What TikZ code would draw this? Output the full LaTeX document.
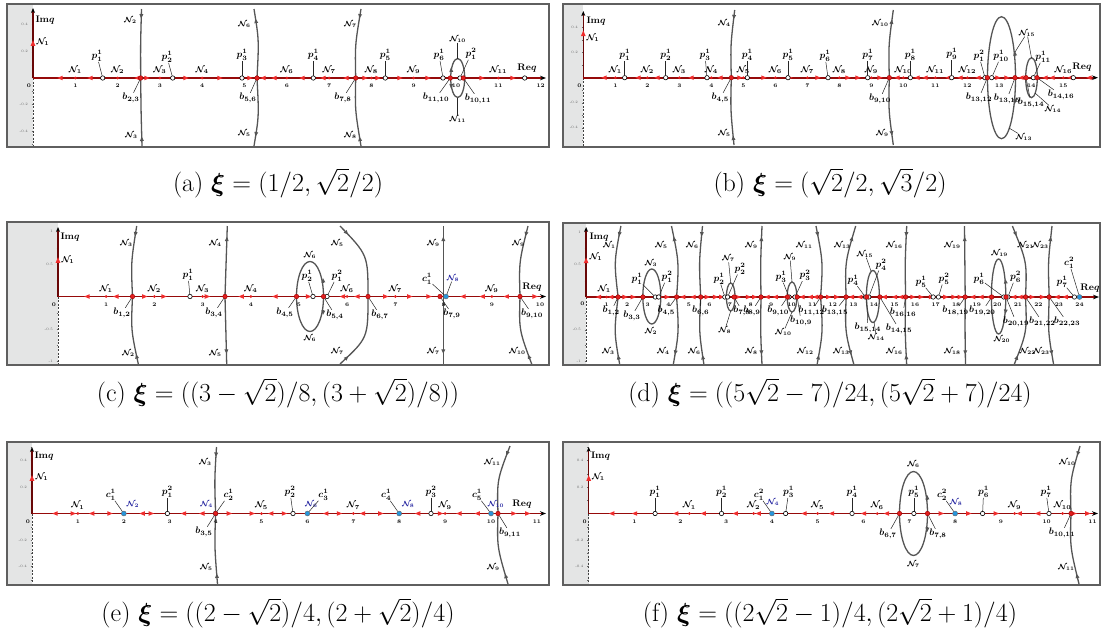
\RequirePackage{fix-cm}
\documentclass[tikz,border=0pt]{standalone}
\usepackage{amsmath,amssymb,bm}
\usetikzlibrary{arrows.meta,decorations.markings}
\definecolor{axred}{RGB}{150,10,10}
\definecolor{flowred}{RGB}{240,45,45}
\definecolor{dotred}{RGB}{225,30,30}
\definecolor{curvegray}{RGB}{85,85,85}
\definecolor{stripgray}{RGB}{228,229,229}
\definecolor{framegray}{RGB}{95,95,95}
\definecolor{cyanpt}{RGB}{40,150,220}
\definecolor{nblue}{RGB}{35,35,160}
\tikzset{
 panel/.style={draw=framegray,line width=1.6pt},
 reax/.style={draw=axred,line width=1.7pt},
 imax/.style={draw=axred!70!black,line width=1.4pt},
 imneg/.style={draw=black!75,line width=0.7pt,dash pattern=on 2pt off 1.5pt},
 imtick/.style={draw=black!60,line width=0.4pt},
 vc/.style={draw=curvegray,line width=1.3pt},
 lead/.style={draw=black!85,line width=0.5pt},
 hollow/.style={circle,draw=black,fill=white,line width=0.6pt,inner sep=0pt,minimum size=4.4pt},
 cdot/.style={circle,draw=black!60,fill=cyanpt,line width=0.4pt,inner sep=0pt,minimum size=5pt},
 bdot/.style={circle,draw=black!40!red,fill=dotred,line width=0.4pt,inner sep=0pt,minimum size=4.6pt},
 ndot/.style={circle,fill=dotred,inner sep=0pt,minimum size=3pt},
 lab/.style={font=\fontsize{9.5}{9.5}\selectfont\boldmath,inner sep=0.3pt},
 alab/.style={font=\fontsize{8.5}{8.5}\selectfont\boldmath,inner sep=0.3pt},
 slab/.style={font=\fontsize{7.5}{7.5}\selectfont\boldmath,inner sep=0.3pt},
 blab/.style={slab,text=nblue},
 num/.style={font=\fontsize{5.4}{5.4}\selectfont\bfseries,inner sep=0pt},
 imnum/.style={font=\fontsize{3.6}{4}\selectfont,text=black!60,inner sep=0pt},
 captxt/.style={font=\fontsize{26}{30}\selectfont,inner sep=0pt},
 am/.style={postaction={decorate},decoration={markings,mark=at position #1 with {\arrow{Triangle[length=4.5pt,width=3.6pt]}}}},
 tip/.style={draw=curvegray,line width=1.3pt,-{Triangle[length=4.5pt,width=3.6pt]}},
}
\newcommand\fR[2]{\fill[flowred] (#1,#2) ++(2.7pt,0) -- ++(-5.4pt,2.3pt) -- ++(0,-4.6pt) -- cycle;}
\newcommand\fL[2]{\fill[flowred] (#1,#2) ++(-2.7pt,0) -- ++(5.4pt,2.3pt) -- ++(0,-4.6pt) -- cycle;}
\newcommand\fU[2]{\fill[flowred] (#1,#2) ++(0,2.8pt) -- ++(-2.4pt,-5.6pt) -- ++(4.8pt,0) -- cycle;}
\begin{document}
\begin{tikzpicture}[x=1pt,y=-1pt]
\useasboundingbox (0,0) rectangle (1103,637);
\fill[white] (0,0) rectangle (1103,637);

%%%%%%%%%%%%%%%%%%%% PANEL (a)
\fill[stripgray] (7,4) rectangle (33,147);
\draw[imneg] (33,78) -- (33,146);
\foreach \y in {11,24.5,38,51.7,65,91,104.5,118,131,144} \draw[imtick] (31.5,\y) -- (33,\y);
\draw[vc,am=0.14] (141.5,9) .. controls (140.5,45) .. (140.7,78);
\draw[vc,am=0.14] (142,146) .. controls (141,110) .. (140.7,78);
\draw[vc,am=0.86] (257,78) .. controls (259,40) .. (254,9);
\draw[vc,am=0.86] (257,78) .. controls (259,116) .. (254,146);
\draw[vc,am=0.14] (361,9) .. controls (355,45) .. (355.7,78);
\draw[vc,am=0.14] (361,146) .. controls (355,110) .. (355.7,78);
\draw[vc] (457.7,78) ellipse [x radius=7pt,y radius=19.5pt];
\draw[tip] (451.2,71) -- (450.9,67.5);
\draw[tip] (451.2,85) -- (450.9,88.5);
\node[slab,anchor=east] (aC2) at (137,20) {$\mathcal N_2$};
\node[slab,anchor=east] (aC3) at (138,135) {$\mathcal N_3$};
\node[slab,anchor=east] (aC6) at (251,24) {$\mathcal N_6$};
\node[slab,anchor=east] (aC5) at (251,133) {$\mathcal N_5$};
\node[slab,anchor=east] (aC7) at (357,24) {$\mathcal N_7$};
\node[slab,anchor=east] (aC8) at (357,135) {$\mathcal N_8$};
\coordinate (aEt) at (457.7,58.5);
\coordinate (aEb) at (457.7,97.5);
\node[slab] (aC10) at (457.7,39) {$\mathcal N_{10}$};
\node[slab] (aC11) at (457.7,119) {$\mathcal N_{11}$};
\draw[lead] (aC10) -- (aEt);
\draw[lead] (aC11) -- (aEb);
\draw[imax,-{Stealth[length=5pt,width=4pt,color=black]}] (33,78) -- (33,8);
\node[imnum,anchor=east] (aI1) at (28,24.5) {0.4};
\node[imnum,anchor=east] (aI2) at (28,51.7) {0.2};
\node[imnum,anchor=east] (aI3) at (28,104.5) {-0.2};
\node[imnum,anchor=east] (aI4) at (28,131) {-0.4};
\node[num] (aT0) at (29,86) {0};
\fU{33}{43}
\node[alab,anchor=west] (aN1i) at (36,42) {$\mathcal N_1$};
\node[lab,anchor=west] (aIm) at (35,20) {$\mathbf{Im}q$};
\draw[reax,-{Stealth[length=6pt,width=4.6pt,color=black]}] (33,78) -- (546,78);
\foreach \i in {1,...,12} \node[num] (aT\i) at ({33+42.3*\i},86) {\i};
\foreach \x in {60,90,137,263,274,302,323,346} {\fL{\x}{78}}
\foreach \x in {147,186,220,250,365,378,400,428,482,513} {\fR{\x}{78}}
\foreach \i/\k in {1/1,2/2,3/3,4/4,6/6,7/7,8/8,9/9,11/11} {
  \node[ndot] (aNd\i) at ({33+42.3*\i},78) {};
  \node[alab] (aN\i) at ({33+42.3*\i},70) {$\mathcal N_{\k}$};}
\foreach \n/\x/\lx/\ly/\t in {p11/102.7/97/56/{p_1^1},p21/172.7/167/57/{p_2^1},p31/242/242/55/{p_3^1},
  p41/313.3/313.3/55/{p_4^1},p51/385.3/385.3/55/{p_5^1},p61/443/439/55/{p_6^1},p12/460/471/54/{p_1^2}} {
  \node[hollow] (a\n) at (\x,78) {};
  \node[lab] (a\n l) at (\lx,\ly) {$\t$};
  \draw[lead] (a\n l) -- (a\n);}
\node[hollow] (aReq) at (524.7,78) {};
\node[lab] (aReql) at (527,68) {$\mathbf{Re}q$};
\foreach \n/\x/\lx/\ly/\t in {b23/140.7/131/98/{b_{2,3}},b56/257/248/98/{b_{5,6}},b78/355.7/343/98/{b_{7,8}},
  b1110/450.3/436/98/{b_{11,10}},b1011/463.3/478/99/{b_{10,11}}} {
  \node[bdot] (a\n) at (\x,78) {};
  \node[lab] (a\n l) at (\lx,\ly) {$\t$};
  \draw[lead] (a\n l) -- (a\n);}
\draw[panel] (7,4) rectangle (549,147);
\node[captxt] (capa) at (278,183) {(a) $\bm{\xi}=(1/2,\sqrt{2}/2)$};

%%%%%%%%%%%%%%%%%%%% PANEL (b)
\fill[stripgray] (563,4) rectangle (583.3,147);
\draw[imneg] (583.3,77.7) -- (583.3,146);
\foreach \y in {15,27.3,40,52.3,65,90,102.7,115,127.7,140} \draw[imtick] (581.8,\y) -- (583.3,\y);
\draw[vc,am=0.14] (734.7,10) .. controls (730.5,45) .. (731.3,77.7);
\draw[vc,am=0.14] (734,145) .. controls (730.5,110) .. (731.3,77.7);
\draw[vc,am=0.86] (889.3,77.7) .. controls (888.5,45) .. (893.3,10);
\draw[vc,am=0.86] (889.3,77.7) .. controls (888.5,110) .. (893.3,145);
\draw[vc] (1001.5,77.7) ellipse [x radius=14pt,y radius=61pt];
\draw[tip] (1015.1,56) -- (1014.8,51);
\draw[tip] (1015.1,99) -- (1014.8,104);
\draw[vc] (1031.5,77.7) ellipse [x radius=5.8pt,y radius=20pt];
\node[slab,anchor=east] (bC4) at (731,23) {$\mathcal N_4$};
\node[slab,anchor=east] (bC5) at (731,133) {$\mathcal N_5$};
\node[slab,anchor=east] (bC10) at (889,23) {$\mathcal N_{10}$};
\node[slab,anchor=east] (bC9) at (889,133) {$\mathcal N_9$};
\coordinate (bE1) at (1015,52);
\coordinate (bE2) at (1031.5,58);
\coordinate (bE3) at (1009,128);
\coordinate (bE4) at (1035,93);
\node[slab] (bC15) at (1027,33) {$\mathcal N_{15}$};
\node[slab] (bC13) at (1024,137) {$\mathcal N_{13}$};
\node[slab] (bC14) at (1053,109) {$\mathcal N_{14}$};
\draw[lead] (bC15) -- (bE1);
\draw[lead] (bC15) -- (bE2);
\draw[lead] (bC13) -- (bE3);
\draw[lead] (bC14) -- (bE4);
\draw[imax,-{Stealth[length=5pt,width=4pt,color=black]}] (583.3,77.7) -- (583.3,11);
\node[imnum,anchor=east] (bI1) at (578,27.3) {0.4};
\node[imnum,anchor=east] (bI2) at (578,52.3) {0.2};
\node[imnum,anchor=east] (bI3) at (578,102.7) {-0.2};
\node[imnum,anchor=east] (bI4) at (578,127.7) {-0.4};
\node[num] (bT0) at (579.5,85.5) {0};
\fU{583.3}{33.3}
\node[alab,anchor=west] (bN1i) at (586,38) {$\mathcal N_1$};
\node[lab,anchor=west] (bIm) at (586,21) {$\mathbf{Im}q$};
\draw[reax,-{Stealth[length=6pt,width=4.6pt,color=black]}] (583.3,77.7) -- (1098,77.7);
\foreach \i in {1,...,15} \node[num] (bT\i) at ({583.3+32*\i},85.5) {\i};
\foreach \x in {604,638,657,691,720,897,917,925,948,960,978,1021,1045,1052,1070,1089} {\fL{\x}{77.7}}
\foreach \x in {740,764,790,818,848,858,880,998,1007} {\fR{\x}{77.7}}
\foreach \i/\k in {1/1,2/2,3/3,4/4,5/5,6/6,7/7,8/8,9/9,10/10,11/11,12/12,15/16} {
  \node[ndot] (bNd\i) at ({583.3+32*\i},77.7) {};
  \node[alab] (bN\i) at ({583.3+32*\i},70) {$\mathcal N_{\k}$};}
\foreach \n/\x/\lx/\ly/\t in {p11/624.7/624.7/55/{p_1^1},p21/665.7/665.7/55/{p_2^1},p31/707/705/55/{p_3^1},
  p41/747.3/747.3/55/{p_4^1},p51/788/788/55/{p_5^1},p61/828/825/56/{p_6^1},p71/867.7/867.7/55/{p_7^1},
  p81/910.3/910.3/55/{p_8^1},p91/951.7/951.7/54/{p_9^1},p12/985/979/56/{p_1^2},p101/991.7/1001/56/{p_{10}^1},
  p111/1033.3/1043/57/{p_{11}^1}} {
  \node[hollow] (b\n) at (\x,77.7) {};
  \node[lab] (b\n l) at (\lx,\ly) {$\t$};
  \draw[lead] (b\n l) -- (b\n);}
\node[hollow] (bReq) at (1073.3,77.7) {};
\node[lab] (bReql) at (1082,67) {$\mathbf{Re}q$};
\foreach \n/\x/\lx/\ly/\t in {b45/731.3/720.3/98/{b_{4,5}},b910/889.3/880/99/{b_{9,10}},b1312/987.3/979/98/{b_{13,12}},
  b1315/1015/1007/99/{b_{13,15}},b1514/1026/1031/103/{b_{15,14}},b1416/1037/1061/95/{b_{14,16}}} {
  \node[bdot] (b\n) at (\x,77.7) {};
  \node[lab] (b\n l) at (\lx,\ly) {$\t$};
  \draw[lead] (b\n l) -- (b\n);}
\draw[panel] (563,4) rectangle (1100,147);
\node[captxt] (capb) at (830,183) {(b) $\bm{\xi}=(\sqrt{2}/2,\sqrt{3}/2)$};

%%%%%%%%%%%%%%%%%%%% PANEL (c)
\fill[stripgray] (7,222) rectangle (58,365);
\draw[imneg] (58,296.5) -- (58,364);
\foreach \y in {231.7,248,264.1,280.3,312.7,328.9,345.1,361.3} \draw[imtick] (56.5,\y) -- (58,\y);
\draw[vc,am=0.15] (136.7,226) .. controls (131,262) .. (132.5,296.5);
\draw[vc,am=0.15] (138.3,364) .. controls (131,330) .. (132.5,296.5);
\draw[vc,am=0.85] (225,296.5) .. controls (226,262) .. (227.3,226);
\draw[vc,am=0.85] (225,296.5) .. controls (226,330) .. (226.7,364);
\draw[vc] (310,296.5) ellipse [x radius=13.5pt,y radius=35pt];
\draw[tip] (323.3,283) -- (323,278);
\draw[tip] (323.3,310) -- (323,315);
\draw[vc,am=0.15] (340,226) .. controls (368,255) .. (368,296.5);
\draw[vc,am=0.15] (340,364) .. controls (368,338) .. (368,296.5);
\draw[vc,am=0.85] (443.3,296.5) -- (443.3,226);
\draw[vc,am=0.85] (443.3,296.5) -- (443.3,364);
\draw[vc,am=0.15] (528,226) .. controls (519,262) .. (520,296.5);
\draw[vc,am=0.15] (531.7,364) .. controls (519,330) .. (520,296.5);
\foreach \n/\x/\y/\t in {c1t/133/243/3,c1b/135/353/2,c2t/222/243/4,c2b/222/353/5,c3t/344/243/5,c3b/344/351/7,
  c4t/440/243/9,c4b/440/351/7,c5t/525/243/9,c5b/526/351/{10}} {
  \node[slab,anchor=east] (c\n) at (\x,\y) {$\mathcal N_{\t}$};}
\node[slab] (cE1t) at (310,255) {$\mathcal N_6$};
\node[slab] (cE1b) at (310,338.5) {$\mathcal N_6$};
\draw[imax,-{Stealth[length=5pt,width=4pt,color=black]}] (58,296.5) -- (58,227);
\node[imnum,anchor=east] (cI1) at (53,231.7) {1};
\node[imnum,anchor=east] (cI2) at (53,264.1) {0.5};
\node[imnum,anchor=east] (cI3) at (53,328.9) {-0.5};
\node[imnum,anchor=east] (cI4) at (53,361.3) {-1};
\node[num] (cT0) at (54,304.5) {0};
\fU{58}{260}
\node[alab,anchor=west] (cN1i) at (61,260) {$\mathcal N_1$};
\node[lab,anchor=west] (cIm) at (60,237) {$\mathbf{Im}q$};
\draw[reax,-{Stealth[length=6pt,width=4.6pt,color=black]}] (58,296.5) -- (546,296.5);
\foreach \i in {1,...,10} \node[num] (cT\i) at ({58+48.2*\i},304.5) {\i};
\foreach \u in {0.6,1.2,3.8,4.5,5.9,6.2,8.4,8.8,9.3} {\fL{58+48.2*\u}{296.5}}
\foreach \u in {1.8,2.2,3.1,5.2,6.8,7.3,7.7,9.9} {\fR{58+48.2*\u}{296.5}}
\foreach \i/\k in {1/1,2/2,3/3,4/4,6/6,7/7,9/9} {
  \node[ndot] (cNd\i) at ({58+48.2*\i},296.5) {};
  \node[alab] (cN\i) at ({58+48.2*\i},289) {$\mathcal N_{\k}$};}
\foreach \n/\x/\lx/\ly/\t in {p11/190/188/275/{p_1^1},p21/313/307/276/{p_2^1},p12/327/337/276/{p_1^2}} {
  \node[hollow] (c\n) at (\x,296.5) {};
  \node[lab] (c\n l) at (\lx,\ly) {$\t$};
  \draw[lead] (c\n l) -- (c\n);}
\node[cdot] (cc11) at (446,296.5) {};
\node[lab] (cc11l) at (427,279) {$c_1^1$};
\node[blab] (cc11n) at (453,278) {$\mathcal N_8$};
\draw[lead] (cc11l) -- (cc11);
\draw[lead] (cc11n) -- (cc11);
\node[lab] (cReql) at (532,287) {$\mathbf{Re}q$};
\foreach \n/\x/\lx/\ly/\t in {b12/132.5/122/313/{b_{1,2}},b34/225/214/313/{b_{3,4}},b45/296.5/285/313/{b_{4,5}},
  b54/323.5/335/315/{b_{5,4}},b67/368/380/315/{b_{6,7}},b79/440/452/314/{b_{7,9}},b910/520/532/314/{b_{9,10}}} {
  \node[bdot] (c\n) at (\x,296.5) {};
  \node[lab] (c\n l) at (\lx,\ly) {$\t$};
  \draw[lead] (c\n l) -- (c\n);}
\draw[panel] (7,222) rectangle (549,365);
\node[captxt] (capc) at (278,393) {(c) $\bm{\xi}=((3-\sqrt{2})/8,(3+\sqrt{2})/8))$};

%%%%%%%%%%%%%%%%%%%% PANEL (d)
\fill[stripgray] (563,223) rectangle (586.1,365);
\draw[imneg] (586.1,297) -- (586.1,364);
\foreach \y in {232,248.5,264.7,281,313,329.7,345.5,361.3} \draw[imtick] (584.6,\y) -- (586.1,\y);
\foreach \xt/\xm/\xa/\xb in {620.9/614/618.1/619.8, 702.5/699/700.7/704, 816/823/820.6/817, 906.7/905/905.6/906.7, 1012.4/1027/1025.5/1014} {
  \draw[vc,am=0.15] (\xt,226) .. controls (\xm,262) .. (\xa,297);
  \draw[vc,am=0.15] (\xb,365) .. controls (\xm,332) .. (\xa,297);}
\foreach \xt/\xm/\xa/\xb in {671.5/679/676.6/673.2, 762/760.5/761/762, 855.7/845/846.1/854, 964.5/965/965.2/965.5, 1052/1048/1049.2/1053.7} {
  \draw[vc,am=0.85] (\xa,297) .. controls (\xm,262) .. (\xt,226);
  \draw[vc,am=0.85] (\xa,297) .. controls (\xm,332) .. (\xb,365);}
\foreach \n/\x/\y/\t in {c1t/616/245/1,c1b/615/351/3,c2t/668/245/5,c2b/670/351/4,c3t/699/245/6,c3b/701/351/6,
  c4t/758/245/9,c4b/758/351/8,c5t/813/245/{11},c5b/814/351/{12},c6t/851/245/{13},c6b/850/351/{13},
  c7t/903/245/{16},c7b/903/351/{16},c8t/961/245/{19},c8b/961/351/{18},c10t/1049/245/{23},c10b/1050/351/{23}} {
  \node[slab,anchor=east] (d\n) at (\x,\y) {$\mathcal N_{\t}$};}
\node[slab,anchor=west] (dc9t) at (1017,245) {$\mathcal N_{21}$};
\node[slab,anchor=west] (dc9b) at (1019,351) {$\mathcal N_{22}$};
\draw[vc] (651.8,296.5) ellipse [x radius=9pt,y radius=27.5pt];
\draw[vc] (730.7,297) ellipse [x radius=4.3pt,y radius=14pt];
\draw[vc] (792,297) ellipse [x radius=4.8pt,y radius=15pt];
\draw[vc] (872.9,296.5) ellipse [x radius=6.5pt,y radius=26pt];
\draw[vc] (998.6,296.5) ellipse [x radius=7.2pt,y radius=37.5pt];
\draw[tip] (1005.7,283) -- (1005.5,279);
\draw[tip] (1005.7,310) -- (1005.5,314);
\node[slab] (dE1t) at (651,263) {$\mathcal N_3$};
\node[slab] (dE1b) at (651,331) {$\mathcal N_2$};
\node[slab] (dE2t) at (728.3,258.7) {$\mathcal N_7$};
\node[slab] (dE2b) at (724.8,330.3) {$\mathcal N_8$};
\node[slab] (dE3t) at (790,257) {$\mathcal N_9$};
\node[slab] (dE3b) at (783.4,332) {$\mathcal N_{10}$};
\node[slab] (dE4t) at (865,254) {$\mathcal N_{15}$};
\node[slab] (dE4b) at (876.4,337) {$\mathcal N_{14}$};
\node[slab] (dE5t) at (999.6,253.7) {$\mathcal N_{19}$};
\node[slab] (dE5b) at (1002,339) {$\mathcal N_{20}$};
\coordinate (dE2tp) at (730.7,283);
\coordinate (dE2bp) at (730.7,311);
\coordinate (dE3tp) at (792,282);
\coordinate (dE3bp) at (792,312);
\coordinate (dE4tp) at (871,271);
\coordinate (dE4bp) at (874,322);
\draw[lead] (dE2t) -- (dE2tp);
\draw[lead] (dE2b) -- (dE2bp);
\draw[lead] (dE3t) -- (dE3tp);
\draw[lead] (dE3b) -- (dE3bp);
\draw[lead] (dE4t) -- (dE4tp);
\draw[lead] (dE4b) -- (dE4bp);
\draw[imax,-{Stealth[length=5pt,width=4pt,color=black]}] (586.1,297) -- (586.1,227);
\node[imnum,anchor=east] (dI1) at (581,232) {1};
\node[imnum,anchor=east] (dI2) at (581,264.7) {0.5};
\node[imnum,anchor=east] (dI3) at (581,329.7) {-0.5};
\node[imnum,anchor=east] (dI4) at (581,361.3) {-1};
\node[num] (dT0) at (582.5,304) {0};
\fU{586.1}{260.3}
\node[alab,anchor=west] (dN1i) at (589,257) {$\mathcal N_1$};
\node[lab,anchor=west] (dIm) at (589,237) {$\mathbf{Im}q$};
\draw[reax,-{Stealth[length=6pt,width=4.6pt,color=black]}] (586.1,297) -- (1099,297);
\foreach \i in {1,...,24} \node[num] (dT\i) at ({586.1+20.56*\i},304.5) {\i};
\foreach \u in {0.6,1.2,4.7,5.2,8.8,9.2,9.7,10.5,10.9,11.15,12.9,13.3,14.5,15.0,15.3,18.8,19.2,19.6,20.8,21.1,22.9,23.3} {\fL{586.1+20.56*\u}{297}}
\foreach \u in {1.9,2.3,3.6,3.95,5.9,6.3,6.6,7.4,7.9,8.2,11.8,12.2,15.9,16.3,16.8,17.5,17.9,18.2,21.7,22.2} {\fR{586.1+20.56*\u}{297}}
\node[ndot] (dNd1) at (606.7,297) {};
\node[alab] (dN1) at (604.3,289) {$\mathcal N_1$};
\foreach \n/\x/\lx/\ly/\t in {p11/655.3/637/278.7/{p_1^1},p12/658.7/667/277/{p_1^2},p21/724.8/719/278.7/{p_2^1},
  p22/727.6/740/268.7/{p_2^2},p31/789/781/277/{p_3^1},p32/795/805/275.3/{p_3^2},p41/865.4/853/280.3/{p_4^1},
  p42/868.8/881/264.7/{p_4^2},p51/933.2/921/282/{p_5^1},p52/938.4/944/278.7/{p_5^2},p61/1003.8/979/278.7/{p_6^1},
  p62/1007.9/1015.5/277/{p_6^2},p71/1074.4/1062/282/{p_7^1}} {
  \node[hollow] (d\n) at (\x,297) {};
  \node[lab] (d\n l) at (\lx,\ly) {$\t$};
  \draw[lead] (d\n l) -- (d\n);}
\node[cdot] (dc12) at (1079.5,297) {};
\node[lab] (dc12l) at (1069.2,263) {$c_1^2$};
\draw[lead] (dc12l) -- (dc12);
\node[lab] (dReql) at (1090,288) {$\mathbf{Re}q$};
\foreach \n/\x/\lx/\ly/\t in {b12/618.1/611.2/311/{b_{1,2}},b33/642.9/631.9/316/{b_{3,3}},b45/676.6/666.3/311/{b_{4,5}},
  b66/700.7/700.7/311/{b_{6,6}},b78/734.1/742/311/{b_{7,8}},b89/761/752/311/{b_{8,9}},b910/787.5/778.2/311/{b_{9,10}},
  b109/797.2/801/321/{b_{10,9}},b1112/820.6/811.6/311/{b_{11,12}},b1315/846.1/835/311/{b_{13,15}},
  b1514/866.7/867.8/328/{b_{15,14}},b1415/879.8/899/329/{b_{14,15}},b1616/905.6/903/313/{b_{16,16}},
  b1819/965.2/955.6/311/{b_{18,19}},b1920/991.7/982.4/311/{b_{19,20}},b2019/1006/1016/322/{b_{20,19}},
  b2122/1025.5/1042.3/322/{b_{21,22}},b2223/1049.2/1067/322/{b_{22,23}}} {
  \node[bdot] (d\n) at (\x,297) {};
  \node[lab] (d\n l) at (\lx,\ly) {$\t$};
  \draw[lead] (d\n l) -- (d\n);}
\draw[panel] (563,223) rectangle (1100,365);
\node[captxt] (capd) at (830,393) {(d) $\bm{\xi}=((5\sqrt{2}-7)/24,(5\sqrt{2}+7)/24)$};

%%%%%%%%%%%%%%%%%%%% PANEL (e)
\fill[stripgray] (7,442) rectangle (32,585);
\draw[imneg] (32,513.5) -- (32,584);
\foreach \y in {447,460.5,473.8,487,500.3,526.8,540,553.3,566.5,579.8} \draw[imtick] (30.5,\y) -- (32,\y);
\draw[vc,am=0.15] (216.5,447) .. controls (214.5,480) .. (215.6,513.5);
\draw[vc,am=0.15] (217.5,584) .. controls (214.5,547) .. (215.6,513.5);
\draw[vc,am=0.15] (510,446) .. controls (497,480) .. (498,513.5);
\draw[vc,am=0.15] (508,584) .. controls (497,547) .. (498,513.5);
\node[slab,anchor=east] (eC3) at (212,462) {$\mathcal N_3$};
\node[slab,anchor=east] (eC5) at (213,567) {$\mathcal N_5$};
\node[slab,anchor=east] (eC11) at (501,462) {$\mathcal N_{11}$};
\node[slab,anchor=east] (eC9) at (500,567) {$\mathcal N_9$};
\draw[imax,-{Stealth[length=5pt,width=4pt,color=black]}] (32,513.5) -- (32,447);
\node[imnum,anchor=east] (eI1) at (27,460.5) {0.4};
\node[imnum,anchor=east] (eI2) at (27,487) {0.2};
\node[imnum,anchor=east] (eI3) at (27,540) {-0.2};
\node[imnum,anchor=east] (eI4) at (27,566.5) {-0.4};
\node[num] (eT0) at (28,521.5) {0};
\fU{32}{478}
\node[alab,anchor=west] (eN1i) at (35,477) {$\mathcal N_1$};
\node[lab,anchor=west] (eIm) at (34,456) {$\mathbf{Im}q$};
\draw[reax,-{Stealth[length=6pt,width=4.6pt,color=black]}] (32,513.5) -- (546,513.5);
\foreach \i in {1,...,11} \node[num] (eT\i) at ({32+45.9*\i},521.5) {\i};
\foreach \u in {0.5,1.3,2.4,3.3,3.7,5.2,6.4,7.2,8.4,9.3,9.7} {\fL{32+45.9*\u}{513.5}}
\foreach \u in {0.9,1.7,2.6,4.3,4.8,5.5,6.7,7.6,8.9,10.5,10.8} {\fR{32+45.9*\u}{513.5}}
\foreach \i/\k in {1/1,5/5,7/7,9/9} {
  \node[ndot] (eNd\i) at ({32+45.9*\i},513.5) {};
  \node[alab] (eN\i) at ({32+45.9*\i},505.5) {$\mathcal N_{\k}$};}
\foreach \n/\x/\lx/\ly/\t in {p12/167.4/167.4/492/{p_1^2},p22/293/290/492/{p_2^2},p32/431/431/492/{p_3^2}} {
  \node[hollow] (e\n) at (\x,513.5) {};
  \node[lab] (e\n l) at (\lx,\ly) {$\t$};
  \draw[lead] (e\n l) -- (e\n);}
\foreach \n/\i/\k/\kk/\dl/\dn in {c11/2/1/2/-13/9,c21/4/2/4/13/-9,c31/6/3/6/16/4,c41/8/4/8/-13/9,c51/10/5/10/-14/5} {
  \node[cdot] (e\n) at ({32+45.9*\i},513.5) {};
  \node[lab] (e\n l) at ({32+45.9*\i+\dl},495) {$c_{\k}^1$};
  \node[blab] (e\n n) at ({32+45.9*\i+\dn},504) {$\mathcal N_{\kk}$};
  \draw[lead] (e\n l) -- (e\n);}
\node[lab] (eReql) at (522,504) {$\mathbf{Re}q$};
\foreach \n/\x/\lx/\ly/\t in {b35/215.6/204/532/{b_{3,5}},b911/498/510/533/{b_{9,11}}} {
  \node[bdot] (e\n) at (\x,513.5) {};
  \node[lab] (e\n l) at (\lx,\ly) {$\t$};
  \draw[lead] (e\n l) -- (e\n);}
\draw[panel] (7,442) rectangle (549,585);
\node[captxt] (cape) at (278,613) {(e) $\bm{\xi}=((2-\sqrt{2})/4,(2+\sqrt{2})/4)$};

%%%%%%%%%%%%%%%%%%%% PANEL (f)
\fill[stripgray] (563,442) rectangle (588.7,585);
\draw[imneg] (588.7,513.5) -- (588.7,584);
\foreach \y in {447,460.5,473.8,487,500.3,526.8,540,553.3,566.5,579.8} \draw[imtick] (587.2,\y) -- (588.7,\y);
\draw[vc] (913.5,513.5) ellipse [x radius=14pt,y radius=42pt];
\draw[tip] (927.4,500) -- (927.2,495);
\draw[tip] (927.4,527) -- (927.2,532);
\draw[vc,am=0.15] (1080,446) .. controls (1070,480) .. (1071,513.5);
\draw[vc,am=0.15] (1079,584) .. controls (1070,547) .. (1071,513.5);
\node[slab] (fE1t) at (913.5,464) {$\mathcal N_6$};
\node[slab] (fE1b) at (913.5,564) {$\mathcal N_7$};
\node[slab,anchor=east] (fC10) at (1076,462) {$\mathcal N_{10}$};
\node[slab,anchor=east] (fC11) at (1075,567) {$\mathcal N_{11}$};
\draw[imax,-{Stealth[length=5pt,width=4pt,color=black]}] (588.7,513.5) -- (588.7,447);
\node[imnum,anchor=east] (fI1) at (583.5,460.5) {0.4};
\node[imnum,anchor=east] (fI2) at (583.5,487) {0.2};
\node[imnum,anchor=east] (fI3) at (583.5,540) {-0.2};
\node[imnum,anchor=east] (fI4) at (583.5,566.5) {-0.4};
\node[num] (fT0) at (584.7,521.5) {0};
\fU{588.7}{478}
\node[alab,anchor=west] (fN1i) at (591.5,477) {$\mathcal N_1$};
\node[lab,anchor=west] (fIm) at (590.5,456) {$\mathbf{Im}q$};
\draw[reax,-{Stealth[length=6pt,width=4.6pt,color=black]}] (588.7,513.5) -- (1098,513.5);
\foreach \i in {1,...,11} \node[num] (fT\i) at ({588.7+45.8*\i},521.5) {\i};
\foreach \u in {0.5,1.0,1.9,2.5,3.2,3.7,4.7,5.3,6.0,6.5,9.4,9.8} {\fL{588.7+45.8*\u}{513.5}}
\foreach \u in {7.7,8.3,8.9,10.6,10.9} {\fR{588.7+45.8*\u}{513.5}}
\foreach \u/\k in {2.2/1,3.6/2,5.0/5,6.3/6,9.3/9,10.35/{10}} {
  \node[ndot] (fNd\k) at ({588.7+45.8*\u},513.5) {};
  \node[alab] (fN\k) at ({588.7+45.8*\u},505.5) {$\mathcal N_{\k}$};}
\foreach \n/\u/\dx/\t in {p11/1.45/0/{p_1^1},p21/2.9/0/{p_2^1},p31/4.3/3/{p_3^1},p41/5.75/0/{p_4^1},
  p51/7.1/0/{p_5^1},p61/8.6/1/{p_6^1},p71/10.05/-3/{p_7^1}} {
  \node[hollow] (f\n) at ({588.7+45.8*\u},513.5) {};
  \node[lab] (f\n l) at ({588.7+45.8*\u+\dx},492) {$\t$};
  \draw[lead] (f\n l) -- (f\n);}
\foreach \n/\i/\k/\kk in {c12/4/1/4,c22/8/2/8} {
  \node[cdot] (f\n) at ({588.7+45.8*\i},513.5) {};
  \node[lab] (f\n l) at ({588.7+45.8*\i-13},495) {$c_{\k}^2$};
  \node[blab] (f\n n) at ({588.7+45.8*\i+1},502) {$\mathcal N_{\kk}$};
  \draw[lead] (f\n l) -- (f\n);}
\foreach \n/\x/\lx/\ly/\t in {b67/899.5/888/534/{b_{6,7}},b78/927.5/938/534/{b_{7,8}},b1011/1071/1062/533/{b_{10,11}}} {
  \node[bdot] (f\n) at (\x,513.5) {};
  \node[lab] (f\n l) at (\lx,\ly) {$\t$};
  \draw[lead] (f\n l) -- (f\n);}
\draw[panel] (563,442) rectangle (1100,585);
\node[captxt] (capf) at (830,613) {(f) $\bm{\xi}=((2\sqrt{2}-1)/4,(2\sqrt{2}+1)/4)$};
\end{tikzpicture}
\end{document}
